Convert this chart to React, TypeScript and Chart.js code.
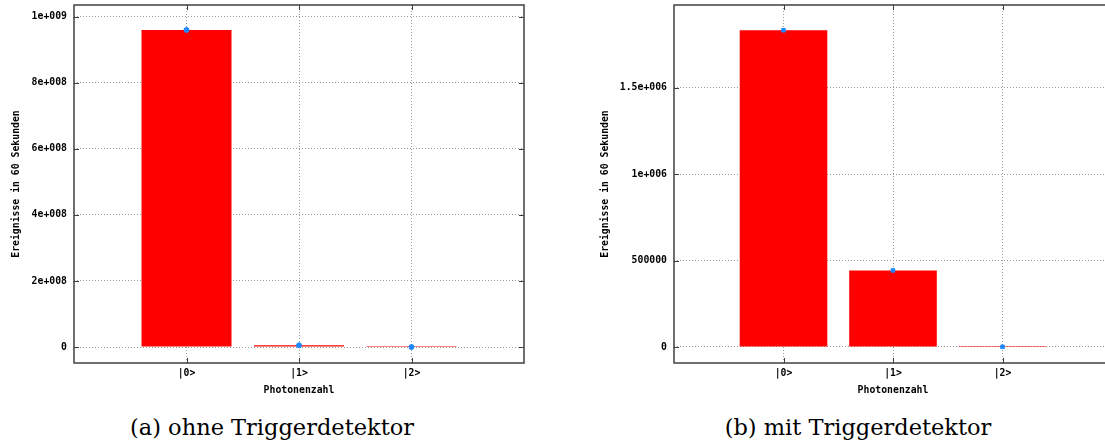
import React, { useEffect, useRef } from 'react';
import { Chart, registerables } from 'chart.js';

Chart.register(...registerables);

// ---- data ----
const categories = ['|0>', '|1>', '|2>'];
const countsOhne = [9.6e8, 5.0e6, 1.0e4];
const countsMit = [1.832e6, 4.43e5, 1.0e3];
const yTicksOhne = [0, 2e8, 4e8, 6e8, 8e8, 1e9];
const yTicksMit = [0, 5e5, 1e6, 1.5e6];
const xTitle = 'Photonenzahl';
const yTitle = 'Ereignisse in 60 Sekunden';
const captionOhne = '(a) ohne Triggerdetektor';
const captionMit = '(b) mit Triggerdetektor';

// gnuplot-like %g formatting (windows style 3-digit exponent)
function gfmt(v: number): string {
  if (v === 0) return '0';
  const a = Math.abs(v);
  if (a >= 1e6) {
    const e = Math.floor(Math.log10(a) + 1e-9);
    const m = +(v / Math.pow(10, e)).toPrecision(6);
    return `${m}e+${String(e).padStart(3, '0')}`;
  }
  return String(v);
}

const tickFont = { family: 'DejaVu Sans Mono', size: 9.8, weight: 'bold' as const };

const framePlugin = {
  id: 'gnuframe',
  afterDraw(chart: any) {
    const { ctx, chartArea: a, scales } = chart;
    ctx.save();
    ctx.strokeStyle = '#3c3c3c';
    ctx.lineWidth = 1;
    ctx.beginPath();
    scales.y.ticks.forEach((t: any) => {
      const y = Math.round(scales.y.getPixelForValue(t.value)) + 0.5;
      ctx.moveTo(a.left, y);
      ctx.lineTo(a.left + 5, y);
      ctx.moveTo(a.right - 5, y);
      ctx.lineTo(a.right, y);
    });
    scales.x.ticks.forEach((t: any) => {
      const x = Math.round(scales.x.getPixelForValue(t.value)) + 0.5;
      ctx.moveTo(x, a.top);
      ctx.lineTo(x, a.top + 5);
      ctx.moveTo(x, a.bottom - 5);
      ctx.lineTo(x, a.bottom);
    });
    ctx.stroke();
    ctx.lineWidth = 1.5;
    ctx.strokeStyle = '#404040';
    ctx.strokeRect(a.left, a.top, a.right - a.left, a.bottom - a.top);
    ctx.restore();
  },
};

type PanelProps = {
  left: number;
  width: number;
  plotRight: number;
  yAxisWidth: number;
  yTitlePad: number;
  counts: number[];
  yTicks: number[];
  yMin: number;
  yMax: number;
  pointStyle: string;
};

function Panel(p: PanelProps) {
  const ref = useRef<HTMLCanvasElement>(null);
  useEffect(() => {
    if (!ref.current) return;
    const chart = new Chart(ref.current, {
      type: 'bar',
      data: {
        datasets: [
          {
            type: 'scatter',
            data: p.counts.map((y, i) => ({ x: i, y })),
            backgroundColor: '#1e88ff',
            borderColor: '#1e88ff',
            pointRadius: 2.5,
            pointStyle: p.pointStyle as any,
            order: 0,
          } as any,
          {
            type: 'bar',
            data: p.counts.map((y, i) => ({ x: i, y })),
            backgroundColor: '#ff0000',
            borderWidth: 0,
            categoryPercentage: 0.8,
            barPercentage: 1,
            minBarLength: 1,
            order: 1,
          } as any,
        ],
      },
      options: {
        animation: false,
        responsive: false,
        layout: { padding: { left: 0, top: 5, right: p.width - p.plotRight, bottom: 0 } },
        plugins: { legend: { display: false }, tooltip: { enabled: false } },
        scales: {
          x: {
            type: 'linear',
            min: -1,
            max: 3,
            offset: false,
            afterBuildTicks: (s: any) => {
              s.ticks = categories.map((_, i) => ({ value: i }));
            },
            afterFit: (s: any) => {
              s.height = 37;
              s.paddingLeft = 0;
              s.paddingRight = 0;
            },
            ticks: {
              callback: (v: any) => categories[v as number] ?? '',
              font: tickFont,
              color: '#000',
              padding: 5,
              maxRotation: 0,
              autoSkip: false,
            },
            grid: { offset: false, color: '#9a9a9a', lineWidth: 1, drawTicks: false, tickLength: 0 },
            border: { display: false, dash: [1, 2] },
            title: {
              display: true,
              text: xTitle,
              font: tickFont,
              color: '#000',
              padding: { top: 0, bottom: 3.2 },
            },
          },
          y: {
            type: 'linear',
            min: p.yMin,
            max: p.yMax,
            afterBuildTicks: (s: any) => {
              s.ticks = p.yTicks.map((v) => ({ value: v }));
            },
            afterFit: (s: any) => {
              s.width = p.yAxisWidth;
              s.paddingTop = 0;
              s.paddingBottom = 0;
            },
            ticks: {
              callback: (v: any) => gfmt(v as number),
              font: tickFont,
              color: '#000',
              padding: 7,
            },
            grid: { color: '#9a9a9a', lineWidth: 1, drawTicks: false, tickLength: 0 },
            border: { display: false, dash: [1, 2] },
            title: {
              display: true,
              text: yTitle,
              font: tickFont,
              color: '#000',
              padding: { top: p.yTitlePad, bottom: 0 },
            },
          },
        },
      },
      plugins: [framePlugin],
    });
    return () => chart.destroy();
  }, []);
  return (
    <canvas
      ref={ref}
      width={p.width}
      height={400}
      style={{ position: 'absolute', left: p.left, top: 0, width: p.width, height: 400 }}
    />
  );
}

const captionStyle: React.CSSProperties = {
  position: 'absolute',
  top: 414,
  fontFamily: '"DejaVu Serif", serif',
  fontSize: 22.5,
  lineHeight: '26px',
  textAlign: 'center',
  whiteSpace: 'nowrap',
  color: '#000',
};

export default function App() {
  return (
    <div
      style={{
        position: 'absolute',
        left: 0,
        top: 0,
        width: 1105,
        height: 445,
        overflow: 'hidden',
        background: '#fff',
      }}
    >
      <Panel
        left={0}
        width={532}
        plotRight={524}
        yAxisWidth={74}
        yTitlePad={10.7}
        counts={countsOhne}
        yTicks={yTicksOhne}
        yMin={-4.84e7}
        yMax={1.0354e9}
        pointStyle="circle"
      />
      <Panel
        left={590}
        width={530}
        plotRight={522}
        yAxisWidth={84}
        yTitlePad={9.2}
        counts={countsMit}
        yTicks={yTicksMit}
        yMin={-9.26e4}
        yMax={1.978e6}
        pointStyle="rect"
      />
      <div style={{ ...captionStyle, left: 72, width: 400 }}>{captionOhne}</div>
      <div style={{ ...captionStyle, left: 658, width: 400 }}>{captionMit}</div>
    </div>
  );
}
